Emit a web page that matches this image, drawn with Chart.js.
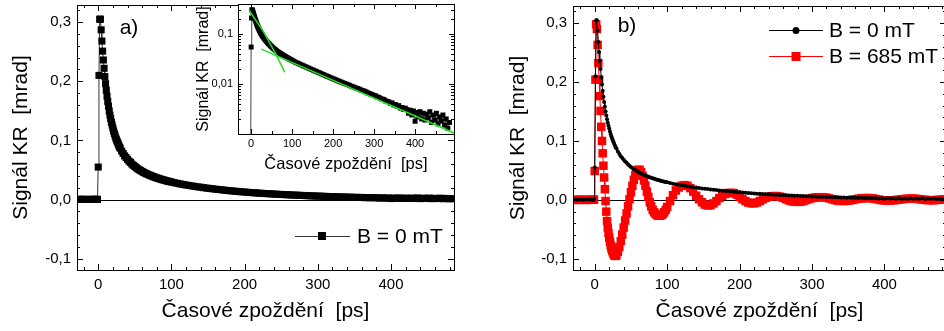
<!DOCTYPE html>
<html>
<head>
<meta charset="utf-8">
<script src="https://cdn.jsdelivr.net/npm/chart.js@4.4.1/dist/chart.umd.min.js"></script>
<style>
  html, body { margin: 0; padding: 0; background: #fff; }
  body { width: 944px; height: 331px; position: relative; overflow: hidden; }
  canvas { position: absolute; top: 0; }
</style>
</head>
<body>
<canvas id="chart-a" width="470" height="331" style="left:0px"></canvas>
<canvas id="chart-inset" width="280" height="180" style="left:190px"></canvas>
<canvas id="chart-b" width="484" height="331" style="left:476px"></canvas>
<script>
const FONT = "'Liberation Sans', Arial, sans-serif";

// time delay [ps]
const T_PS = [
  -28, -24, -20, -16, -12, -8, -4, -2, -1,
  0, 1, 2, 3, 4, 5, 6, 7, 8, 9, 10, 11, 12, 13, 14, 15, 16, 17, 18, 19, 20,
  21, 22, 23, 24, 25, 26, 27, 28, 29, 30,
  32, 34, 36, 38, 40, 42, 44, 46, 48, 50, 52, 54, 56, 58, 60, 62, 64, 66, 68, 70,
  72, 74, 76, 78, 80, 82, 84, 86, 88, 90, 92, 94, 96, 98, 100,
  104, 108, 112, 116, 120, 124, 128, 132, 136, 140, 144, 148, 152, 156, 160, 164, 168, 172, 176, 180,
  184, 188, 192, 196, 200, 204, 208, 212, 216, 220, 224, 228, 232, 236, 240, 244, 248, 252, 256, 260,
  264, 268, 272, 276, 280, 284, 288, 292, 296, 300, 304, 308, 312, 316, 320, 324, 328, 332, 336, 340,
  344, 348, 352, 356, 360, 364, 368, 372, 376, 380, 384, 388, 392, 396, 400, 404, 408, 412, 416, 420,
  424, 428, 432, 436, 440, 444, 448, 452, 456, 460, 464, 468, 472, 476, 480, 484
];

// Kerr rotation, B = 0 mT [mrad]
const KR_0MT = [
  0.0006, 0.0004, 0.0007, 0.0003, 0.0005, 0.0006, 0.0004, 0.0005, 0.0004,
  0.055, 0.210, 0.305, 0.305, 0.287, 0.268, 0.251, 0.236, 0.222, 0.208, 0.196, 0.185, 0.175, 0.166, 0.158, 0.150,
  0.143, 0.137, 0.131, 0.126, 0.121, 0.116, 0.112, 0.108, 0.104, 0.101, 0.098, 0.095, 0.092, 0.089, 0.087,
  0.082, 0.078, 0.074, 0.071, 0.068, 0.065, 0.063, 0.060, 0.058, 0.056, 0.054, 0.052, 0.0505, 0.049, 0.0475,
  0.046, 0.0448, 0.0436, 0.0425, 0.0414, 0.0404, 0.0394, 0.0385, 0.0376, 0.0367, 0.0359, 0.0351, 0.0343,
  0.0336, 0.0329, 0.0322, 0.0315, 0.0309, 0.0303, 0.0297,
  0.0286, 0.0275, 0.0265, 0.0256, 0.0247, 0.0239, 0.0231, 0.0223, 0.0216, 0.0209, 0.0202, 0.0195, 0.0189,
  0.0183, 0.0177, 0.0171, 0.0166, 0.0160, 0.0155, 0.0150, 0.0145, 0.0141, 0.0136, 0.0132, 0.0128,
  0.0124, 0.0120, 0.0116, 0.0113, 0.0109, 0.0106, 0.0103, 0.0100, 0.0097, 0.0094, 0.0091, 0.0088, 0.0086,
  0.0083, 0.0081, 0.0079, 0.0076, 0.0074, 0.0072, 0.0070, 0.0067, 0.0065, 0.0063, 0.0061, 0.0059,
  0.0058, 0.0055, 0.0054, 0.0051, 0.0050, 0.0049, 0.0046, 0.0045, 0.0044, 0.0041, 0.0042, 0.0038, 0.0039,
  0.0036, 0.0037, 0.0033, 0.0034, 0.0031, 0.0033,
  0.0031, 0.0026, 0.0030, 0.0024, 0.0029, 0.0018, 0.0027, 0.0022, 0.0028, 0.0020, 0.0026, 0.0019, 0.0025,
  0.0021, 0.0028, 0.0017, 0.0024, 0.0019, 0.0026, 0.0016, 0.0022, 0.0018, 0.0024, 0.0015, 0.0020, 0.0013, 0.0017
];

// Kerr rotation, B = 685 mT [mrad]
const KR_685MT = [
  0.0004, -0.0003, 0.0005, 0.0002, -0.0002, 0.0004, 0.0001, 0.0003, 0.0002,
  0.049, 0.204, 0.298, 0.290, 0.263, 0.232, 0.204, 0.176, 0.151, 0.124, 0.100, 0.079, 0.058, 0.038, 0.018, -0.002,
  -0.020, -0.036, -0.047, -0.056, -0.064, -0.071, -0.077, -0.082, -0.086, -0.089, -0.092, -0.094, -0.095, -0.095, -0.093,
  -0.088, -0.080, -0.070, -0.059, -0.047, -0.035, -0.023, -0.011, 0.001, 0.013, 0.024, 0.034, 0.042, 0.048, 0.051,
  0.051, 0.047, 0.041, 0.033, 0.024, 0.014, 0.005, -0.004, -0.011, -0.017, -0.021, -0.024, -0.026,
  -0.027, -0.027, -0.026, -0.024, -0.021, -0.017, -0.012,
  -0.002, 0.008, 0.016, 0.021, 0.024, 0.025, 0.024, 0.020, 0.014, 0.007, 0.001, -0.004, -0.008,
  -0.0095, -0.009, -0.006, -0.002, 0.003, 0.007, 0.010, 0.0115, 0.012, 0.0115, 0.009, 0.005,
  0.001, -0.002, -0.0045, -0.0058, -0.0058, -0.0045, -0.002, 0.001, 0.0035, 0.0052, 0.0062, 0.0066, 0.0063,
  0.0053, 0.0035, 0.0012, -0.0008, -0.0023, -0.0031, -0.0034, -0.0032, -0.002, -0.0002, 0.0015, 0.003,
  0.004, 0.0045, 0.0046, 0.0044, 0.0038, 0.0025, 0.001, -0.0003, -0.0013, -0.0018, -0.0019, -0.0017, -0.001,
  0.0, 0.001, 0.002, 0.0027, 0.003, 0.0031,
  0.003, 0.0025, 0.0015, 0.0005, -0.0004, -0.0009, -0.0011, -0.0011, -0.0008, -0.0002, 0.0004, 0.0011, 0.0016,
  0.0019, 0.0021, 0.0021, 0.0018, 0.0012, 0.0006, 0.0, -0.0004, -0.0006, -0.0005, -0.0002, 0.0003, 0.0008, 0.0011
];

// exponential fits shown in the inset
const FIT_FAST_T = [-5, 30, 60, 82];
const FIT_FAST_KR = [0.30, 0.112, 0.040, 0.0172];
const FIT_SLOW_T = [25, 495];
const FIT_SLOW_KR = [0.050, 0.00105];

const X_TICKS = [0, 100, 200, 300, 400];
const X_TICK_LABELS = ['0', '100', '200', '300', '400'];
const Y_TICKS = [-0.1, 0, 0.1, 0.2, 0.3];
const Y_TICK_LABELS = ['-0,1', '0,0', '0,1', '0,2', '0,3'];
const INSET_Y_TICKS = [0.01, 0.1];
const INSET_Y_TICK_LABELS = ['0,01', '0,1'];

const X_TITLE = 'Časové zpoždění  [ps]';
const Y_TITLE = 'Signál KR  [mrad]';
const LABEL_0MT = 'B = 0 mT';
const LABEL_685MT = 'B = 685 mT';

Chart.defaults.font.family = FONT;
Chart.defaults.color = '#000';
Chart.defaults.animation = false;

function points(xs, ys) {
    return xs.map((x, i) => ({ x: x, y: ys[i] }));
}

function steps(min, max, step) {
    const out = [];
    for (let v = Math.ceil(min / step) * step; v <= max + 1e-9; v += step) out.push(+v.toFixed(6));
    return out;
}

function logSteps(min, max) {
    const out = [];
    for (let e = -4; e <= 0; e++) {
        for (let k = 1; k <= 9; k++) {
            const v = k * Math.pow(10, e);
            if (v >= min * 0.999 && v <= max) out.push({ v: v, major: k === 1 });
        }
    }
    return out;
}

function axis(o) {
    const vertical = o.vertical;
    return {
        type: o.type || 'linear',
        min: o.min, max: o.max,
        grid: { display: false, drawTicks: false },
        border: { display: false },
        afterBuildTicks: s => { s.ticks = o.ticks.map(v => ({ value: v })); },
        afterFit: s => {
            if (vertical) { s.width = o.size; s.paddingTop = 0; s.paddingBottom = 0; }
            else { s.height = o.size; s.paddingLeft = 0; s.paddingRight = 0; }
        },
        ticks: {
            callback: (v, i) => o.labels[i],
            font: { size: o.tickSize }, padding: o.tickPad,
            maxRotation: 0, autoSkip: false, color: '#000'
        },
        title: {
            display: true, text: o.title, color: '#000',
            font: { size: o.titleSize },
            padding: vertical ? { top: o.titlePad, bottom: 0 } : { top: 0, bottom: o.titlePad }
        }
    };
}

// Origin-like frame: box, inward major/minor ticks on all sides, zero line, extra texts
function frame(cfg) {
    return {
        id: 'frame',
        beforeDraw(chart) {
            if (!cfg.fill) return;
            const a = chart.chartArea, ctx = chart.ctx;
            ctx.save();
            ctx.fillStyle = '#fff';
            ctx.fillRect(a.left, a.top, a.right - a.left, a.bottom - a.top);
            ctx.restore();
        },
        beforeDatasetsDraw(chart) {
            if (!cfg.zero) return;
            const a = chart.chartArea, ctx = chart.ctx;
            const y = Math.round(chart.scales.y.getPixelForValue(0)) + 0.5;
            ctx.save();
            ctx.strokeStyle = '#000';
            ctx.lineWidth = 1;
            ctx.beginPath();
            ctx.moveTo(a.left, y);
            ctx.lineTo(a.right, y);
            ctx.stroke();
            ctx.restore();
        },
        afterDraw(chart) {
            const { ctx, chartArea: a, scales: { x, y } } = chart;
            ctx.save();
            ctx.strokeStyle = '#000';
            ctx.lineWidth = 1;
            ctx.beginPath();
            const xt = steps(x.min, x.max, cfg.xMinor).map(v => ({ v: v, major: Math.abs(v % cfg.xMajor) < 1e-6 }));
            xt.forEach(t => {
                const p = Math.round(x.getPixelForValue(t.v)) + 0.5;
                const len = t.major ? cfg.major : cfg.minor;
                ctx.moveTo(p, a.bottom); ctx.lineTo(p, a.bottom - len);
                ctx.moveTo(p, a.top); ctx.lineTo(p, a.top + len);
            });
            const yt = cfg.log ? logSteps(y.min, y.max)
                : steps(y.min, y.max, cfg.yMinor).map(v => ({ v: v, major: Math.abs(Math.round(v / cfg.yMajor) * cfg.yMajor - v) < 1e-6 }));
            yt.forEach(t => {
                const p = Math.round(y.getPixelForValue(t.v)) + 0.5;
                const len = t.major ? cfg.major : cfg.minor;
                ctx.moveTo(a.left, p); ctx.lineTo(a.left + len, p);
                ctx.moveTo(a.right, p); ctx.lineTo(a.right - len, p);
            });
            ctx.stroke();
            ctx.strokeRect(Math.round(a.left) + 0.5, Math.round(a.top) + 0.5,
                Math.round(a.right - a.left), Math.round(a.bottom - a.top));
            ctx.restore();
            if (cfg.extra) cfg.extra(ctx, a);
        }
    };
}

function text(ctx, str, x, y, size, align) {
    ctx.save();
    ctx.fillStyle = '#000';
    ctx.font = size + 'px ' + FONT;
    ctx.textAlign = align || 'left';
    ctx.textBaseline = 'middle';
    ctx.fillText(str, x, y);
    ctx.restore();
}

function legendLine(ctx, x0, x1, y, color) {
    ctx.save();
    ctx.strokeStyle = color;
    ctx.lineWidth = 1;
    ctx.beginPath();
    ctx.moveTo(x0, y + 0.5);
    ctx.lineTo(x1, y + 0.5);
    ctx.stroke();
    ctx.restore();
}

const baseOptions = {
    responsive: false,
    devicePixelRatio: 1,
    events: [],
    plugins: { legend: { display: false }, tooltip: { enabled: false } }
};

// --- PANEL a) ---
new Chart(document.getElementById('chart-a'), {
    type: 'line',
    data: {
        datasets: [{
            data: points(T_PS, KR_0MT),
            borderColor: '#333', borderWidth: 1,
            pointStyle: 'rect', pointRadius: 5, pointBackgroundColor: '#000', pointBorderWidth: 0,
            clip: 0
        }]
    },
    options: Object.assign({}, baseOptions, {
        layout: { padding: { left: 0, top: 4, right: 16, bottom: 0 } },
        scales: {
            x: axis({ min: -29, max: 486, ticks: X_TICKS, labels: X_TICK_LABELS, size: 61, tickSize: 15, tickPad: 6, title: X_TITLE, titleSize: 21, titlePad: 7 }),
            y: axis({ vertical: true, min: -0.119, max: 0.329, ticks: Y_TICKS, labels: Y_TICK_LABELS, size: 77, tickSize: 15, tickPad: 6, title: Y_TITLE, titleSize: 21, titlePad: 9 })
        }
    }),
    plugins: [frame({
        xMajor: 100, xMinor: 20, yMajor: 0.1, yMinor: 0.02, major: 6, minor: 3, zero: true,
        extra: (ctx, a) => {
            text(ctx, 'a)', 129, 28, 21, 'center');
            legendLine(ctx, 295, 350, 236, '#333');
            ctx.fillStyle = '#000';
            ctx.fillRect(318, 232, 8, 8);
            text(ctx, LABEL_0MT, 357, 237, 21);
        }
    })]
});

// --- INSET (log scale) ---
new Chart(document.getElementById('chart-inset'), {
    type: 'line',
    data: {
        datasets: [{
            data: points(FIT_FAST_T, FIT_FAST_KR),
            borderColor: '#1ee01e', borderWidth: 1.5, pointRadius: 0, clip: 0
        }, {
            data: points(FIT_SLOW_T, FIT_SLOW_KR),
            borderColor: '#1ee01e', borderWidth: 1.5, pointRadius: 0, clip: 0
        }, {
            data: points(T_PS, KR_0MT),
            borderColor: '#444', borderWidth: 1,
            pointStyle: 'rect', pointRadius: 3.5, pointBackgroundColor: '#000', pointBorderWidth: 0,
            clip: 0
        }]
    },
    options: Object.assign({}, baseOptions, {
        layout: { padding: { left: 0, top: 4, right: 16, bottom: 0 } },
        scales: {
            x: axis({ min: -32, max: 495, ticks: X_TICKS, labels: X_TICK_LABELS, size: 46, tickSize: 11, tickPad: 3, title: X_TITLE, titleSize: 16.5, titlePad: 6 }),
            y: axis({ vertical: true, type: 'logarithmic', min: 0.001, max: 0.4, ticks: INSET_Y_TICKS, labels: INSET_Y_TICK_LABELS, size: 48, tickSize: 11, tickPad: 5, title: Y_TITLE, titleSize: 16, titlePad: 4 })
        }
    }),
    plugins: [frame({ xMajor: 100, xMinor: 50, log: true, major: 5, minor: 3, fill: true })]
});

// --- PANEL b) ---
new Chart(document.getElementById('chart-b'), {
    type: 'line',
    data: {
        datasets: [{
            data: points(T_PS, KR_0MT),
            borderColor: '#000', borderWidth: 1,
            pointStyle: 'circle', pointRadius: 2, pointBackgroundColor: '#000', pointBorderWidth: 0,
            clip: 0
        }, {
            data: points(T_PS, KR_685MT),
            borderColor: '#ff0000', borderWidth: 1,
            pointStyle: 'rect', pointRadius: 6, pointBackgroundColor: '#ff0000', pointBorderWidth: 0,
            clip: 0
        }]
    },
    options: Object.assign({}, baseOptions, {
        layout: { padding: { left: 0, top: 4, right: 14, bottom: 0 } },
        scales: {
            x: axis({ min: -30, max: 485, ticks: X_TICKS, labels: X_TICK_LABELS, size: 61, tickSize: 15, tickPad: 6, title: X_TITLE, titleSize: 21, titlePad: 7 }),
            y: axis({ vertical: true, min: -0.119, max: 0.329, ticks: Y_TICKS, labels: Y_TICK_LABELS, size: 97, tickSize: 15, tickPad: 6, title: Y_TITLE, titleSize: 21, titlePad: 30 })
        }
    }),
    plugins: [frame({
        xMajor: 100, xMinor: 20, yMajor: 0.1, yMinor: 0.02, major: 6, minor: 3, zero: true,
        extra: (ctx, a) => {
            text(ctx, 'b)', 151, 26, 21, 'center');
            legendLine(ctx, 293, 347, 30, '#000');
            ctx.fillStyle = '#000';
            ctx.beginPath();
            ctx.arc(320, 30.5, 3.5, 0, Math.PI * 2);
            ctx.fill();
            text(ctx, LABEL_0MT, 353, 31, 21);
            legendLine(ctx, 293, 347, 56, '#ff0000');
            ctx.fillStyle = '#ff0000';
            ctx.fillRect(315.5, 52, 9, 9);
            text(ctx, LABEL_685MT, 353, 57, 21);
        }
    })]
});
</script>
</body>
</html>
